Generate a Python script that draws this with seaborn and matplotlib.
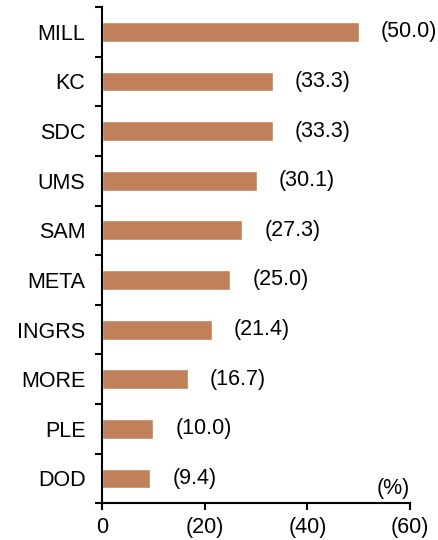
import matplotlib
matplotlib.use('Agg')
import matplotlib.pyplot as plt
import seaborn as sns
import numpy as np

names = ['MILL', 'KC', 'SDC', 'UMS', 'SAM', 'META', 'INGRS', 'MORE', 'PLE', 'DOD']
values = [50.0, 33.3, 33.3, 30.1, 27.3, 25.0, 21.4, 16.7, 10.0, 9.4]
xticks = [0, 20, 40, 60]
xtick_labels = ['0', '(20)', '(40)', '(60)']

sns.set_style('white')
plt.rcParams['font.family'] = ['Liberation Sans', 'DejaVu Sans']
plt.rcParams['text.color'] = 'black'
plt.rcParams['xtick.color'] = 'black'
plt.rcParams['ytick.color'] = 'black'

fs = 15.5
fig = plt.figure(figsize=(4.38, 5.40), dpi=100)
ax = fig.add_axes([0.233, 0.068, 0.703, 0.919])

sns.barplot(x=values, y=names, color='#C0805A', width=0.4, saturation=1, ax=ax, orient='h')

for i, v in enumerate(values):
    ax.text(v + 4.3, i, '(%.1f)' % v, va='center', ha='left', fontsize=fs, color='black')

ax.set_xlim(0, 60)
ax.set_ylim(9.5, -0.5)
ax.set_xticks(xticks)
ax.set_xticklabels(xtick_labels, fontsize=fs)
ax.set_yticks(range(len(names)))
ax.set_yticklabels(names, fontsize=fs)
ax.set_yticks(np.arange(-0.5, 10, 1), minor=True)
ax.tick_params(axis='y', which='major', left=True, length=0, pad=12, labelcolor='black')
ax.tick_params(axis='y', which='minor', left=True, length=5, width=1.5, direction='out', color='black')
ax.tick_params(axis='x', bottom=True, length=5, width=1.5, direction='out', pad=5, color='black', labelcolor='black')
ax.set_xlabel('')
ax.set_ylabel('')

for s in ['top', 'right']:
    ax.spines[s].set_visible(False)
for s in ['left', 'bottom']:
    ax.spines[s].set_color('black')
    ax.spines[s].set_linewidth(1.5)

ax.text(1.0, 0.008, '(%)', transform=ax.transAxes, ha='right', va='bottom', fontsize=fs, color='black')

fig.savefig('out.png', dpi=100)
